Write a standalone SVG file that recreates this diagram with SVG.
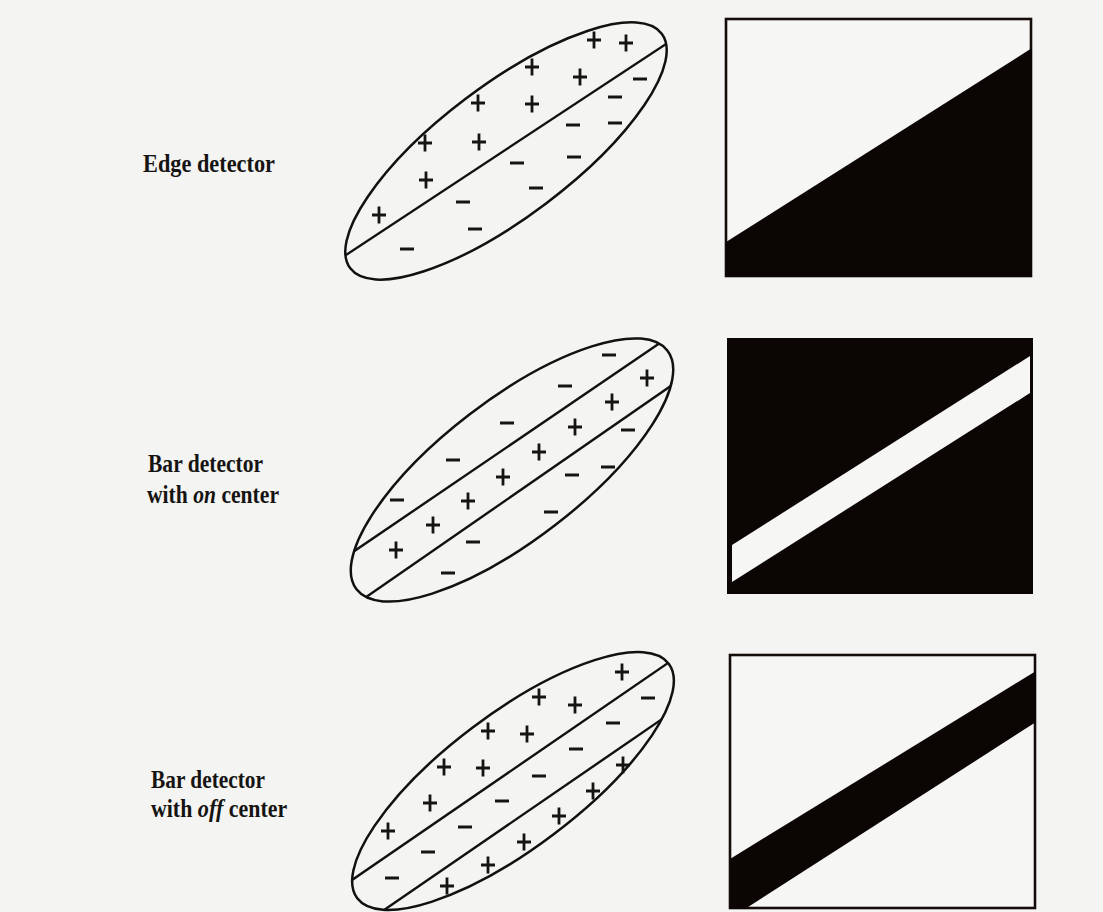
<svg xmlns="http://www.w3.org/2000/svg" width="1103" height="912" viewBox="0 0 1103 912">
<style>
.bg{fill:#f4f4f2}
.ell{fill:none;stroke:#111;stroke-width:2.5}
.div{stroke:#111;stroke-width:2.4;fill:none}
.sym{stroke:#161412;fill:none;stroke-linecap:butt}
.lt{stroke:#777}
.lbl{font-family:"Liberation Serif","Times New Roman",serif;font-weight:bold;font-size:25px;fill:#161412}
.it{font-style:italic}
.frame{fill:#f6f6f4;stroke:#140c08;stroke-width:2.6}
.ink{fill:#0b0604}
.paper{fill:#f6f6f4}
</style>
<defs>
<path id="plus" class="sym" d="M-7,0H7M0,-8.5V8.5" stroke-width="2.8"/>
<path id="minus" class="sym" d="M-7,0H7" stroke-width="3"/>
<clipPath id="c1"><ellipse cx="506" cy="151" rx="195" ry="66" transform="rotate(-37 506 151)"/></clipPath>
<clipPath id="c2"><ellipse cx="512" cy="470" rx="196" ry="70" transform="rotate(-37.5 512 470)"/></clipPath>
<clipPath id="c3"><ellipse cx="513" cy="781" rx="195" ry="67" transform="rotate(-37 513 781)"/></clipPath>
</defs>
<rect class="bg" x="0" y="0" width="1103" height="912"/>

<g id="label-edge">
<text class="lbl" x="143" y="172" textLength="132" lengthAdjust="spacingAndGlyphs">Edge detector</text>
</g>
<g id="label-bar-on">
<text class="lbl" x="148" y="472" textLength="115" lengthAdjust="spacingAndGlyphs">Bar detector</text>
<text class="lbl" x="147" y="503" textLength="40.8" lengthAdjust="spacingAndGlyphs">with</text>
<text class="lbl it" x="193.2" y="503" textLength="22.8" lengthAdjust="spacingAndGlyphs">on</text>
<text class="lbl" x="221.4" y="503" textLength="57.6" lengthAdjust="spacingAndGlyphs">center</text>
</g>
<g id="label-bar-off">
<text class="lbl" x="151" y="788" textLength="114" lengthAdjust="spacingAndGlyphs">Bar detector</text>
<text class="lbl" x="151" y="817" textLength="41.3" lengthAdjust="spacingAndGlyphs">with</text>
<text class="lbl it" x="197.8" y="817" textLength="25.5" lengthAdjust="spacingAndGlyphs">off</text>
<text class="lbl" x="228.8" y="817" textLength="58.3" lengthAdjust="spacingAndGlyphs">center</text>
</g>

<g id="field-edge">
<ellipse class="ell" cx="506" cy="151" rx="195" ry="66" transform="rotate(-37 506 151)"/>
<g clip-path="url(#c1)"><line class="div" x1="320" y1="272.1" x2="700" y2="21.6"/></g>
<use href="#plus" x="594" y="40"/>
<use href="#plus" x="626" y="43"/>
<use href="#plus" x="532" y="67"/>
<use href="#plus" x="580" y="77"/>
<use href="#plus" x="478" y="103"/>
<use href="#plus" x="532" y="104"/>
<use href="#plus" x="425" y="143"/>
<use href="#plus" x="479" y="142"/>
<use href="#plus" x="426" y="180"/>
<use href="#plus" x="379" y="215"/>
<use href="#minus" x="640" y="79" class="lt"/>
<use href="#minus" x="615" y="97"/>
<use href="#minus" x="615" y="123"/>
<use href="#minus" x="573" y="125" class="lt"/>
<use href="#minus" x="517" y="163"/>
<use href="#minus" x="574" y="157"/>
<use href="#minus" x="536" y="188"/>
<use href="#minus" x="463" y="202"/>
<use href="#minus" x="475" y="229"/>
<use href="#minus" x="407" y="249"/>
</g>

<g id="field-bar-on">
<ellipse class="ell" cx="512" cy="470" rx="196" ry="70" transform="rotate(-37.5 512 470)"/>
<g clip-path="url(#c2)">
<line class="div" x1="320" y1="574.5" x2="700" y2="315.7"/>
<line class="div" x1="320" y1="629" x2="700" y2="365.8"/>
</g>
<use href="#minus" x="609" y="355"/>
<use href="#minus" x="565" y="386"/>
<use href="#minus" x="507" y="423"/>
<use href="#minus" x="453" y="460"/>
<use href="#minus" x="397" y="500"/>
<use href="#minus" x="628" y="430"/>
<use href="#minus" x="608" y="467"/>
<use href="#minus" x="572" y="475" class="lt"/>
<use href="#minus" x="551" y="512"/>
<use href="#minus" x="473" y="542"/>
<use href="#minus" x="448" y="573"/>
<use href="#plus" x="647" y="378"/>
<use href="#plus" x="612" y="402"/>
<use href="#plus" x="575" y="427"/>
<use href="#plus" x="539" y="452"/>
<use href="#plus" x="503" y="477"/>
<use href="#plus" x="468" y="501"/>
<use href="#plus" x="433" y="525"/>
<use href="#plus" x="396" y="550"/>
</g>

<g id="field-bar-off">
<ellipse class="ell" cx="513" cy="781" rx="195" ry="67" transform="rotate(-37 513 781)"/>
<g clip-path="url(#c3)">
<line class="div" x1="320" y1="902" x2="700" y2="641"/>
<line class="div" x1="320" y1="954" x2="700" y2="693"/>
</g>
<use href="#plus" x="622" y="672"/>
<use href="#plus" x="539" y="697"/>
<use href="#plus" x="575" y="705"/>
<use href="#plus" x="488" y="731"/>
<use href="#plus" x="527" y="734"/>
<use href="#plus" x="444" y="767"/>
<use href="#plus" x="483" y="768"/>
<use href="#plus" x="430" y="803"/>
<use href="#plus" x="388" y="831"/>
<use href="#plus" x="623" y="765"/>
<use href="#plus" x="593" y="791"/>
<use href="#plus" x="559" y="816"/>
<use href="#plus" x="524" y="842"/>
<use href="#plus" x="488" y="865"/>
<use href="#plus" x="447" y="886"/>
<use href="#minus" x="648" y="698" class="lt"/>
<use href="#minus" x="613" y="723"/>
<use href="#minus" x="576" y="749"/>
<use href="#minus" x="539" y="776"/>
<use href="#minus" x="502" y="801" class="lt"/>
<use href="#minus" x="465" y="827"/>
<use href="#minus" x="428" y="852"/>
<use href="#minus" x="392" y="878"/>
</g>

<g id="stimulus-edge">
<rect class="frame" x="726" y="19" width="305" height="257"/>
<polygon class="ink" points="726,242 1032,48 1032,277 726,277"/>
</g>

<g id="stimulus-bar-on">
<rect class="ink" x="727" y="338" width="306" height="256"/>
<polygon class="paper" points="732,545 1030,356 1030,393 732,582"/>
</g>

<g id="stimulus-bar-off">
<rect class="frame" x="730" y="655" width="305" height="253"/>
<polygon class="ink" points="730,859 1036,671 1036,722 745,909 730,909"/>
</g>
</svg>
